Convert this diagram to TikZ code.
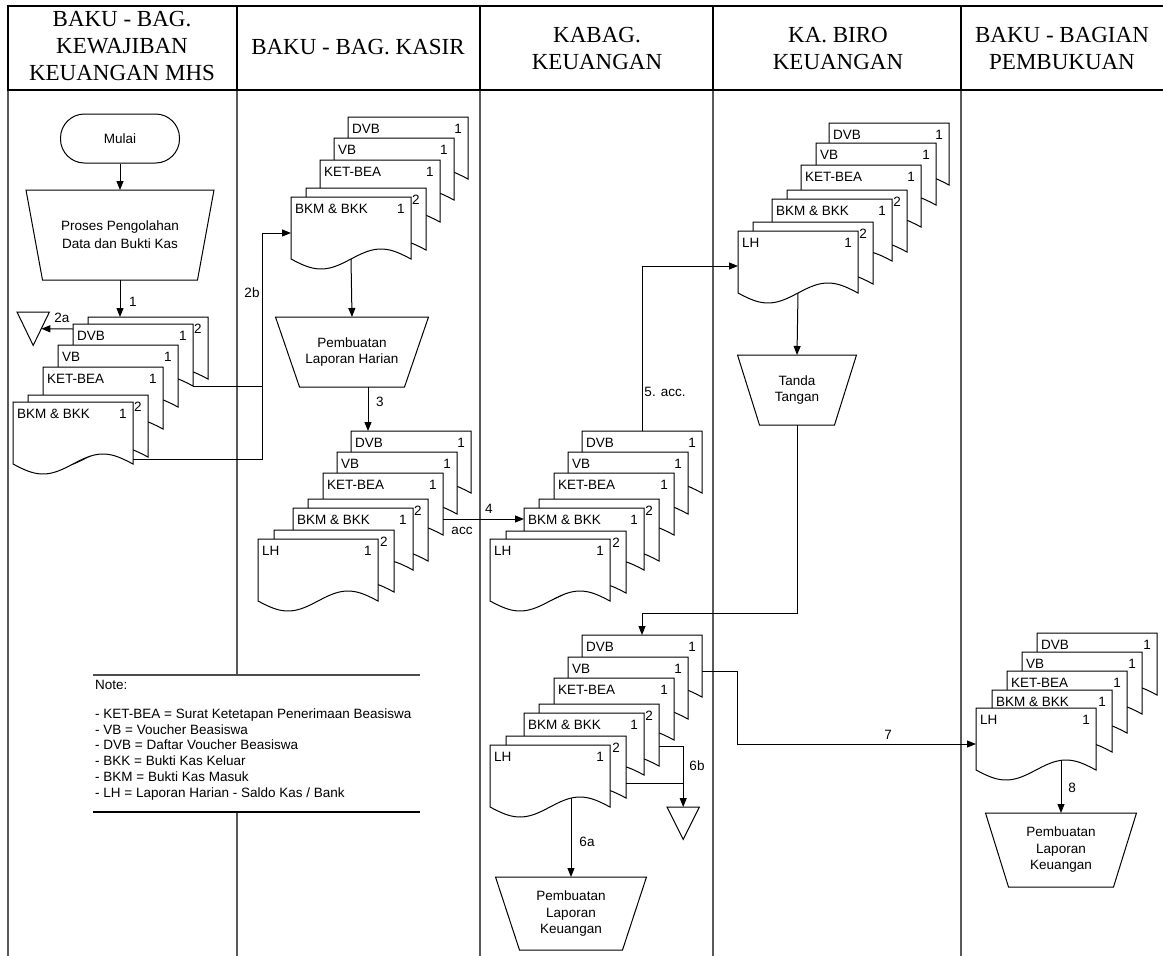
\documentclass[tikz,border=0pt]{standalone}
\usepackage{fontspec}
\setmainfont{Liberation Sans}
\newfontfamily\hdrfont{Liberation Serif}
\usetikzlibrary{arrows.meta,calc}
\tikzset{
  lbl/.style={font=\fontsize{13.5}{16.5}\selectfont, inner sep=0pt},
  hd/.style={font=\hdrfont\fontsize{23}{27}\selectfont, align=center, inner sep=0pt},
  arr/.style={-{Triangle[length=9pt,width=7pt]}},
  conn/.style={line width=1pt},
  shp/.style={line width=1pt, fill=white},
  lane/.style={line width=1.3pt, black!65},
  hline/.style={line width=1.3pt, black},
}
% document shape: name, x, y (top-left), label, number
\newcommand\docsh[5]{%
  \draw[shp] (#2,#3) -- ++(120,0) -- ++(0,62)
    -- plot[domain=0:1,samples=40,variable=\t] ({#2+120-120*\t},{#3+62-10*sin(360*\t)}) -- cycle;
  \node[inner sep=0pt, outer sep=0pt, minimum width=120pt, minimum height=62pt, anchor=north west] (#1) at (#2,#3) {};
  \node[lbl, anchor=west] (#1-l) at (#2+4,#3+12) {#4};
  \node[lbl] (#1-n) at (#2+110,#3+12) {#5};
}
% trapezoid: name, cx, ytop, top width, bottom width, height, text
\newcommand\trapz[7]{%
  \draw[shp] (#2-#4/2,#3) -- (#2+#4/2,#3) -- (#2+#5/2,#3+#6) -- (#2-#5/2,#3+#6) -- cycle;
  \node[inner sep=0pt, outer sep=0pt, minimum width=#5pt, minimum height=#6pt, anchor=north] (#1) at (#2,#3) {};
  \node[lbl, align=center] (#1-t) at (#1.center) {#7};
}
\begin{document}
\begin{tikzpicture}[x=1pt,y=-1pt]
\useasboundingbox (0,0) rectangle (1163,956);
\fill[white] (0,0) rectangle (1163,956);

% lanes
\foreach \xx in {8,237,480,713,961} {
  \draw[lane] (\xx,90) -- (\xx,956);
  \draw[hline] (\xx,6) -- (\xx,90);
}
\draw[hline] (7.35,6) -- (1163,6);
\draw[hline] (7.35,90) -- (1163,90);

\node[hd] (h1) at (122,46) {BAKU - BAG.\\KEWAJIBAN\\KEUANGAN MHS};
\node[hd] (h2) at (358,47) {BAKU - BAG. KASIR};
\node[hd] (h3) at (597,48) {KABAG.\\KEUANGAN};
\node[hd] (h4) at (838,48) {KA. BIRO\\KEUANGAN};
\node[hd] (h5) at (1062,48) {BAKU - BAGIAN\\PEMBUKUAN};

% note
\fill[white] (93,675) rectangle (420,812);
\draw[line width=1.3pt, black!70] (93,675) -- (420,675);
\draw[line width=2pt] (93,812) -- (420,812);
\node[lbl, anchor=north west, align=left, font=\fontsize{13.5}{15.8}\selectfont] (note) at (95,680)
 {Note:\\[13pt]- KET-BEA = Surat Ketetapan Penerimaan Beasiswa\\- VB = Voucher Beasiswa\\- DVB = Daftar Voucher Beasiswa\\- BKK = Bukti Kas Keluar\\- BKM = Bukti Kas Masuk\\- LH = Laporan Harian - Saldo Kas / Bank};

% lane 1
\node[draw, line width=1pt, rounded corners=24pt, minimum width=119pt, minimum height=49pt, lbl] (mulai) at (120,138.5) {Mulai};
\trapz{P1}{120}{190}{188}{155}{90}{Proses Pengolahan\\[1.5pt]Data dan Bukti Kas}
\docsh{A-dvb2}{88}{317}{}{2}
\docsh{A-dvb}{73}{324}{DVB}{1}
\docsh{A-vb}{58}{345}{VB}{1}
\docsh{A-ket}{43}{367}{KET-BEA}{1}
\docsh{A-bkm2}{28}{395}{}{2}
\docsh{A-bkm}{13}{402}{BKM \& BKK}{1}
\node[inner sep=0pt, minimum width=32pt, minimum height=33pt, anchor=north west] (t1) at (17,312) {};
\draw[line width=1pt] (t1.north west) -- (t1.north east) -- (t1.south) -- cycle;

% lane 2
\docsh{B-dvb}{348}{117}{DVB}{1}
\docsh{B-vb}{334}{138}{VB}{1}
\docsh{B-ket}{320}{160}{KET-BEA}{1}
\docsh{B-bkm2}{306}{188}{}{2}
\docsh{B-bkm}{291}{197}{BKM \& BKK}{1}
\trapz{P2}{352}{317}{153}{105}{70}{Pembuatan\\Laporan Harian}
\docsh{B2-dvb}{351}{431}{DVB}{1}
\docsh{B2-vb}{337}{452}{VB}{1}
\docsh{B2-ket}{323}{473}{KET-BEA}{1}
\docsh{B2-bkm2}{308}{499}{}{2}
\docsh{B2-bkm}{293}{508}{BKM \& BKK}{1}
\docsh{B2-lh2}{274}{530}{}{2}
\docsh{B2-lh}{258}{539}{LH}{1}

% lane 3
\docsh{C-dvb}{582}{431}{DVB}{1}
\docsh{C-vb}{568}{452}{VB}{1}
\docsh{C-ket}{554}{473}{KET-BEA}{1}
\docsh{C-bkm2}{539}{499}{}{2}
\docsh{C-bkm}{524}{508}{BKM \& BKK}{1}
\docsh{C-lh2}{506}{531}{}{2}
\docsh{C-lh}{490}{539}{LH}{1}
\docsh{E-dvb}{582}{635}{DVB}{1}
\docsh{E-vb}{568}{657}{VB}{1}
\docsh{E-ket}{554}{678}{KET-BEA}{1}
\docsh{E-bkm2}{539}{704}{}{2}
\docsh{E-bkm}{524}{713}{BKM \& BKK}{1}
\docsh{E-lh2}{506}{736}{}{2}
\docsh{E-lh}{490}{745}{LH}{1}
\trapz{P4}{571}{877}{151}{103}{73}{Pembuatan\\Laporan\\Keuangan}
\node[inner sep=0pt, minimum width=32pt, minimum height=32pt, anchor=north west] (t2) at (667,807) {};
\draw[line width=1pt] (t2.north west) -- (t2.north east) -- (t2.south) -- cycle;

% lane 4
\docsh{D-dvb}{829}{123}{DVB}{1}
\docsh{D-vb}{816}{143}{VB}{1}
\docsh{D-ket}{801}{165}{KET-BEA}{1}
\docsh{D-bkm2}{787}{190}{}{2}
\docsh{D-bkm}{772}{199}{BKM \& BKK}{1}
\docsh{D-lh2}{753}{222}{}{2}
\docsh{D-lh}{738}{231}{LH}{1}
\trapz{P3}{797}{355}{119}{75}{70}{Tanda\\Tangan}

% lane 5
\docsh{F-dvb}{1037}{633}{DVB}{1}
\docsh{F-vb}{1022}{652}{VB}{1}
\docsh{F-ket}{1007}{671}{KET-BEA}{1}
\docsh{F-bkm}{992}{690}{BKM \& BKK}{1}
\docsh{F-lh}{976}{708}{LH}{1}
\trapz{P5}{1061}{813}{151}{105}{74}{Pembuatan\\Laporan\\Keuangan}

% connectors
\coordinate (c2b) at (262,233);
\coordinate (k) at (797,613);
\coordinate (c7) at (737,744);
\draw[conn,arr] (mulai) -- (P1.north);
\draw[conn,arr] (P1.south) -- (P1.south |- A-dvb2.north);
\draw[conn,arr] ([yshift=-5pt]A-dvb.north west) -- ($(t1.north east)!0.5!(t1.south)$);
\draw[conn] (A-dvb.south east) -- (A-dvb.south east -| c2b);
\draw[conn,arr] ([yshift=5pt]A-bkm.south east) -| (c2b) -- (c2b -| B-bkm.west);
\draw[conn,arr] (B-bkm.south) -- (P2.north);
\draw[conn,arr] ([xshift=16pt]P2.south) -- ([xshift=16pt]P2.south |- B2-dvb.north);
\draw[conn,arr] ([yshift=-46pt]B2-ket.north east) -- ([yshift=-46pt]B2-ket.north east -| C-bkm.west);
\draw[conn,arr] (C-dvb.north) |- ([yshift=-35pt]D-lh.north west);
\draw[conn,arr] (D-lh.south) -- (P3.north);
\draw[conn,arr] (P3.south) -- (P3.south |- k) -| (E-dvb.north);
\draw[conn,arr] ([yshift=-36pt]E-dvb.north east) -| (c7) -- (c7 -| F-lh.west);
\draw[conn,arr] ([yshift=-42pt]E-bkm2.north east) -| (t2.north);
\draw[conn] ([yshift=-47pt]E-lh2.north east) -- ([yshift=-47pt]E-lh2.north east -| t2.north);
\draw[conn,arr] ([xshift=21pt,yshift=9pt]E-lh.south) -- (P4.north);
\draw[conn,arr] ([xshift=25pt,yshift=9.7pt]F-lh.south) -- (P5.north);

% connector labels
\node[lbl] (l1) at (133,302) {1};
\node[lbl] (l2a) at (62,318) {2a};
\node[lbl] (l2b) at (252,293) {2b};
\node[lbl] (l3) at (380,402) {3};
\node[lbl] (l4) at (489,509) {4};
\node[lbl] (lacc) at (462,531) {acc};
\node[lbl] (l5) at (665,392) {5. acc.};
\node[lbl] (l6a) at (587,842) {6a};
\node[lbl] (l6b) at (697,766) {6b};
\node[lbl] (l7) at (888,735) {7};
\node[lbl] (l8) at (1072,788) {8};
\end{tikzpicture}
\end{document}
